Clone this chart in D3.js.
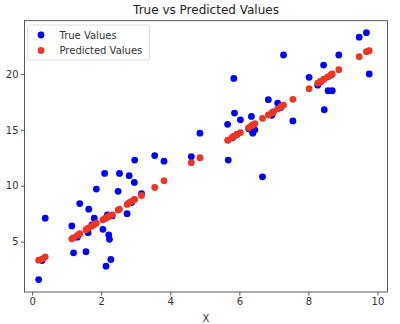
<!DOCTYPE html>
<html>
<head>
<meta charset="utf-8">
<script src="https://cdn.jsdelivr.net/npm/d3@7"></script>
<style>
  body { margin: 0; background: #fff; }
  svg { display: block; font-family: "DejaVu Sans", sans-serif; }
</style>
</head>
<body>
<svg id="chart" width="400" height="324"></svg>
<script>
// x positions shared by both series
const xs = [0.19, 0.29, 0.38, 1.15, 1.20, 1.31, 1.38, 1.56, 1.62, 1.64, 1.73, 1.80, 1.86,
  2.05, 2.10, 2.14, 2.18, 2.22, 2.24, 2.28, 2.32, 2.49, 2.53, 2.75, 2.81, 2.88, 2.96, 2.97,
  3.17, 3.55, 3.82, 4.61, 4.86, 5.66, 5.68, 5.80, 5.84, 5.86, 5.93, 6.03, 6.27, 6.35, 6.37,
  6.39, 6.45, 6.67, 6.84, 6.94, 6.98, 7.11, 7.20, 7.28, 7.55, 8.02, 8.27, 8.35, 8.44, 8.46,
  8.57, 8.66, 8.69, 8.88, 9.47, 9.68, 9.76]
const trueVals = [1.6, 3.3, 7.1, 6.4, 4.0, 5.4, 8.4, 4.1, 5.8, 7.9, 6.5, 7.1, 9.7,
  6.1, 11.1, 2.8, 7.4, 5.6, 5.2, 3.4, 7.3, 9.5, 11.1, 7.5, 10.9, 8.5, 10.3, 12.3,
  9.3, 12.7, 12.2, 12.6, 14.7, 15.5, 12.3, 14.3, 19.6, 16.5, 14.6, 15.9, 15.1, 16.2, 14.9,
  14.7, 15.0, 10.8, 17.7, 16.3, 16.6, 17.4, 17.0, 21.7, 15.8, 19.7, 19.0, 19.3, 20.8, 16.8,
  18.5, 19.9, 18.5, 21.7, 23.3, 23.7, 20.0]
const predVals = [3.34, 3.46, 3.64, 5.25, 5.35, 5.55, 5.71, 6.07, 6.19, 6.23, 6.39, 6.53, 6.65,
  6.95, 7.05, 7.12, 7.18, 7.26, 7.30, 7.36, 7.40, 7.82, 7.91, 8.33, 8.48, 8.60, 8.76, 8.78,
  9.13, 9.85, 10.45, 12.06, 12.51, 14.06, 14.10, 14.33, 14.41, 14.45, 14.57, 14.75, 15.19, 15.36, 15.40,
  15.45, 15.56, 16.03, 16.33, 16.51, 16.57, 16.87, 17.07, 17.22, 17.73, 18.69, 19.19, 19.34, 19.52, 19.56,
  19.76, 19.94, 20.00, 20.39, 21.55, 22.00, 22.09]
const xTicks = [0, 2, 4, 6, 8, 10]
const yTicks = [5, 10, 15, 20]

const svg = d3.select("#chart")
const plotL = 24.5, plotR = 387.5, plotT = 20.7, plotB = 292

const xScale = d3.scaleLinear().domain([-0.22, 10.29]).range([plotL, plotR])
const yScale = d3.scaleLinear().domain([0.49, 24.77]).range([plotB, plotT])

// points
const g = svg.append("g")
g.selectAll("circle.true")
  .data(xs)
  .join("circle")
  .attr("class", "true")
  .attr("cx", d => xScale(d))
  .attr("cy", (d, i) => yScale(trueVals[i]))
  .attr("r", 3.4)
  .attr("fill", "#0000ff")

g.selectAll("circle.pred")
  .data(xs)
  .join("circle")
  .attr("class", "pred")
  .attr("cx", d => xScale(d))
  .attr("cy", (d, i) => yScale(predVals[i]))
  .attr("r", 3.4)
  .attr("fill", "#ee3524")

// axes
const xAxis = svg.append("g")
  .attr("transform", "translate(0," + plotB + ")")
  .call(d3.axisBottom(xScale).tickValues(xTicks).tickSize(3.5).tickPadding(2.5))
const yAxis = svg.append("g")
  .attr("transform", "translate(" + plotL + ",0)")
  .call(d3.axisLeft(yScale).tickValues(yTicks).tickSize(3.5).tickPadding(2.5))

for (const ax of [xAxis, yAxis]) {
  ax.select(".domain").remove()
  ax.selectAll("line").attr("stroke", "#333").attr("stroke-width", 0.8)
  ax.selectAll("text").attr("font-size", 10).attr("fill", "#333")
    .attr("font-family", "DejaVu Sans, sans-serif")
}

// frame
svg.append("rect")
  .attr("x", plotL).attr("y", plotT)
  .attr("width", plotR - plotL).attr("height", plotB - plotT)
  .attr("fill", "none").attr("stroke", "#333").attr("stroke-width", 0.8)

// title and label
svg.append("text")
  .attr("x", (plotL + plotR) / 2).attr("y", 14)
  .attr("text-anchor", "middle").attr("font-size", 12).attr("fill", "#222")
  .text("True vs Predicted Values")
svg.append("text")
  .attr("x", (plotL + plotR) / 2).attr("y", 322)
  .attr("text-anchor", "middle").attr("font-size", 10).attr("fill", "#333")
  .text("X")

// legend
const legend = svg.append("g")
legend.append("rect")
  .attr("x", 27.5).attr("y", 25).attr("width", 122).attr("height", 35)
  .attr("rx", 2).attr("fill", "#fff").attr("fill-opacity", 0.8)
  .attr("stroke", "#d6d6d6").attr("stroke-width", 0.8)
const items = [["True Values", "#0000ff"], ["Predicted Values", "#ee3524"]]
items.forEach((it, i) => {
  legend.append("circle").attr("cx", 41).attr("cy", 35 + i * 15.5).attr("r", 3.4).attr("fill", it[1])
  legend.append("text").attr("x", 59.5).attr("y", 38.8 + i * 15.5)
    .attr("font-size", 10).attr("fill", "#333").text(it[0])
})
</script>
</body>
</html>
